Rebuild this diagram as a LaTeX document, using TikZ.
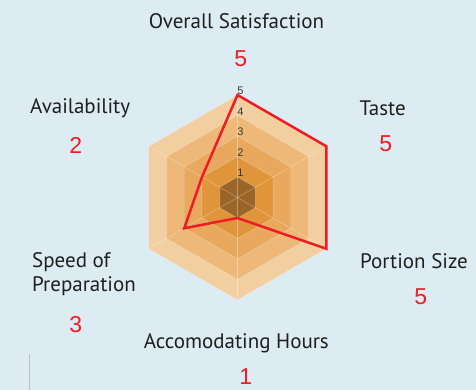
\documentclass[tikz,border=0pt]{standalone}
\usepackage{fontspec}
\setmainfont{PT Sans}
\newfontfamily\numfont{Liberation Sans}
\usetikzlibrary{positioning}
\definecolor{bgblue}{HTML}{DDEBF2}
\definecolor{ringfive}{HTML}{F2CFA1}
\definecolor{ringfour}{HTML}{EDB878}
\definecolor{ringthree}{HTML}{E8A95F}
\definecolor{ringtwo}{HTML}{E1953B}
\definecolor{ringone}{HTML}{9B6527}
\definecolor{scorered}{HTML}{EE1D25}
\tikzstyle{axislabel} = [font=\fontsize{21}{23.5}\selectfont, text=black!88, inner sep=0pt, align=left]
\tikzstyle{score} = [font=\numfont\fontsize{23}{23}\selectfont, text=scorered, inner sep=0pt, anchor=base]
\tikzstyle{tick} = [font=\numfont\fontsize{11}{11}\selectfont, text=black!78, inner sep=0pt, anchor=base]
\tikzstyle{spoke} = [draw=white, draw opacity=0.35, line width=0.5pt]
\tikzstyle{datapoly} = [draw=scorered, line width=2.5pt]

\begin{document}
\begin{tikzpicture}[x=1pt, y=1pt]

  \fill[bgblue] (0,0) rectangle (476,390);
  \useasboundingbox (0,0) rectangle (476,390);
  \coordinate (c) at (237.5,192.5);

  % rings of the chart
  \foreach \lev/\col in {5/ringfive, 4/ringfour, 3/ringthree, 2/ringtwo, 1/ringone}
    \filldraw[spoke, fill=\col] ([shift={(c)}]90:{\lev*20.5}) -- ([shift={(c)}]30:{\lev*20.5})
      -- ([shift={(c)}]-30:{\lev*20.5}) -- ([shift={(c)}]-90:{\lev*20.5})
      -- ([shift={(c)}]-150:{\lev*20.5}) -- ([shift={(c)}]150:{\lev*20.5}) -- cycle;

  \coordinate (overall axis) at ([shift={(c)}]90:102.5);
  \coordinate (taste axis) at ([shift={(c)}]30:102.5);
  \coordinate (portion axis) at ([shift={(c)}]-30:102.5);
  \coordinate (hours axis) at ([shift={(c)}]-90:102.5);
  \coordinate (speed axis) at ([shift={(c)}]-150:102.5);
  \coordinate (avail axis) at ([shift={(c)}]150:102.5);
  \draw[spoke] (overall axis) -- (hours axis);
  \draw[spoke] (taste axis) -- (speed axis);
  \draw[spoke] (portion axis) -- (avail axis);

  % scores
  \coordinate (overall val) at ([shift={(c)}]90:102.5);
  \coordinate (taste val) at ([shift={(c)}]30:102.5);
  \coordinate (portion val) at ([shift={(c)}]-30:102.5);
  \coordinate (hours val) at ([shift={(c)}]-90:20.5);
  \coordinate (speed val) at ([shift={(c)}]-150:61.5);
  \coordinate (avail val) at ([shift={(c)}]150:41);
  \draw[datapoly] (overall val) -- (taste val) -- (portion val) -- (hours val) -- (speed val) -- (avail val) -- cycle;

  \foreach \lev in {1,...,5}
    \node[tick] (tick\lev) at ([xshift=3pt, yshift=\lev*20.5pt]c) {\lev};

  \node[axislabel, anchor=base] (overall) at (236.5,361) {Overall Satisfaction};
  \node[score] (overall score) at (240.7,323.3) {5};
  \node[axislabel, anchor=base west] (taste) at (359.3,274) {Taste};
  \node[score] (taste score) at (385.7,238.3) {5};
  \node[axislabel, anchor=base west] (portion) at (360,121) {Portion Size};
  \node[score] (portion score) at (420.7,85) {5};
  \node[axislabel, anchor=base] (hours) at (236.3,41) {Accomodating Hours};
  \node[score] (hours score) at (245.7,5) {1};
  \node[axislabel, anchor=north west] (speed) at (32,137.3) {Speed of\\Preparation};
  \node[score] (speed score) at (75.7,57.7) {3};
  \node[axislabel, anchor=base west] (avail) at (30,276.2) {Availability};
  \node[score] (avail score) at (75.7,236.7) {2};

  \coordinate (rule top) at (29.5,36);
  \coordinate (rule bottom) at (29.5,0);
  \draw[black!25, line width=0.8pt] (rule bottom) -- (rule top);

\end{tikzpicture}
\end{document}
